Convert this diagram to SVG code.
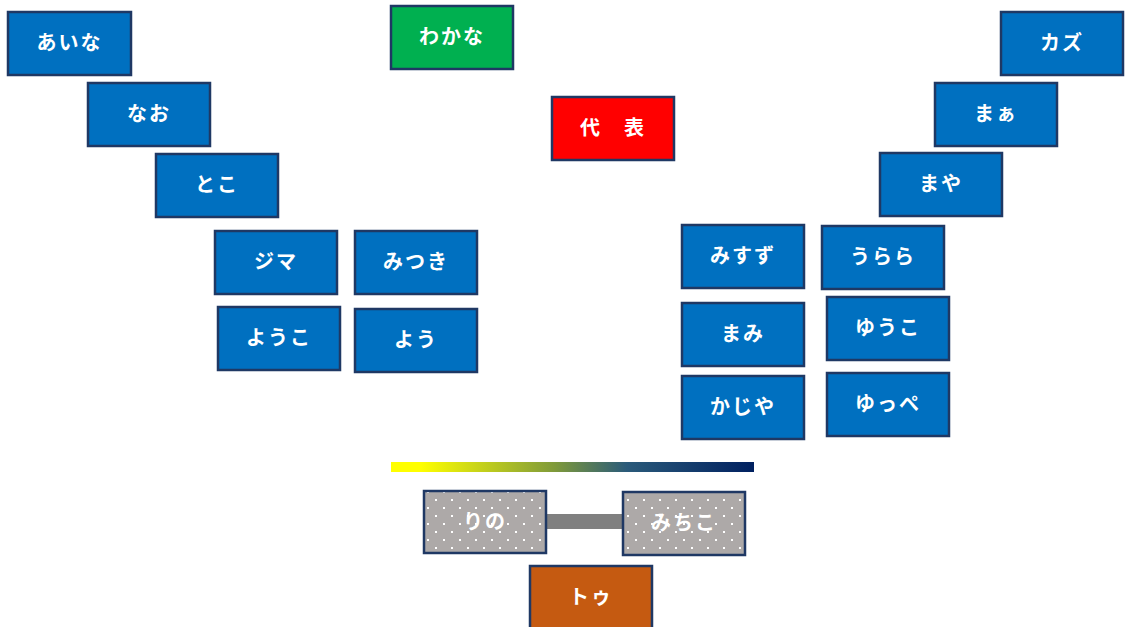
<svg xmlns="http://www.w3.org/2000/svg" width="1126" height="627" viewBox="0 0 1126 627">
<style>
.b rect{stroke:#1F3864;stroke-width:2.5}
.blue rect{fill:#0070C0}
text{font-family:"Noto Sans CJK JP","Noto Sans",sans-serif;font-weight:bold;font-size:20px;fill:#FFFFFF;text-anchor:middle;letter-spacing:2px}
</style>
<defs>
<linearGradient id="grad" x1="0" y1="0" x2="1" y2="0">
<stop offset="0" stop-color="#FFFF00"/>
<stop offset="0.08" stop-color="#FFFF00"/>
<stop offset="0.45" stop-color="#7F9A3A"/>
<stop offset="0.65" stop-color="#2A5A7A"/>
<stop offset="1" stop-color="#002060"/>
</linearGradient>
<pattern id="dots" x="0" y="0" width="16" height="16" patternUnits="userSpaceOnUse">
<rect width="16" height="16" fill="#ADA9A8"/>
<rect x="3" y="3" width="2" height="2" fill="#FFFFFF"/>
<rect x="11" y="11" width="2" height="2" fill="#FFFFFF"/>
</pattern>
</defs>
<rect width="1126" height="627" fill="#FFFFFF"/>
<g id="connectors">
<line x1="546" y1="521.5" x2="623" y2="521.5" stroke="#808080" stroke-width="15"/>
</g>
<g id="n-aina" class="b blue"><rect x="8" y="12" width="123" height="63"/><text x="69.5" y="50">あいな</text></g>
<g id="n-nao" class="b blue"><rect x="88" y="83" width="122" height="63"/><text x="149" y="121">なお</text></g>
<g id="n-toko" class="b blue"><rect x="156" y="154" width="122" height="63"/><text x="217" y="192">とこ</text></g>
<g id="n-jima" class="b blue"><rect x="215" y="231" width="122" height="63"/><text x="276" y="269">ジマ</text></g>
<g id="n-mitsuki" class="b blue"><rect x="355" y="231" width="122" height="63"/><text x="416" y="269">みつき</text></g>
<g id="n-youko1" class="b blue"><rect x="218" y="307" width="122" height="63"/><text x="279" y="345">ようこ</text></g>
<g id="n-you" class="b blue"><rect x="355" y="309" width="122" height="63"/><text x="416" y="347">よう</text></g>
<g id="n-wakana" class="b"><rect x="391" y="6" width="122" height="63" fill="#00B050"/><text x="452" y="44">わかな</text></g>
<g id="n-daihyo" class="b"><rect x="552" y="97" width="122" height="63" fill="#FF0000"/><text x="613" y="135">代　表</text></g>
<g id="n-kazu" class="b blue"><rect x="1001" y="12" width="122" height="63"/><text x="1062" y="50">カズ</text></g>
<g id="n-maa" class="b blue"><rect x="935" y="83" width="122" height="63"/><text x="996" y="121">まぁ</text></g>
<g id="n-maya" class="b blue"><rect x="880" y="153" width="122" height="63"/><text x="941" y="191">まや</text></g>
<g id="n-misuzu" class="b blue"><rect x="682" y="225" width="122" height="63"/><text x="743" y="263">みすず</text></g>
<g id="n-urara" class="b blue"><rect x="822" y="226" width="122" height="63"/><text x="883" y="264">うらら</text></g>
<g id="n-mami" class="b blue"><rect x="682" y="303" width="122" height="63"/><text x="743" y="341">まみ</text></g>
<g id="n-youko2" class="b blue"><rect x="827" y="297" width="122" height="63"/><text x="888" y="335">ゆうこ</text></g>
<g id="n-kajiya" class="b blue"><rect x="682" y="376" width="122" height="63"/><text x="743" y="414">かじや</text></g>
<g id="n-yuppe" class="b blue"><rect x="827" y="373" width="122" height="63"/><text x="888" y="411">ゆっぺ</text></g>
<rect x="391" y="462" width="363" height="10" fill="url(#grad)"/>
<g id="n-rino" class="b"><rect x="424" y="491" width="122" height="62" fill="url(#dots)"/><text x="485" y="529">りの</text></g>
<g id="n-michiko" class="b"><rect x="623" y="492" width="122" height="63" fill="url(#dots)"/><text x="684" y="530">みちこ</text></g>
<g id="n-tou" class="b"><rect x="530" y="566" width="122" height="66" fill="#C55A11"/><text x="591" y="604">トゥ</text></g>
</svg>
